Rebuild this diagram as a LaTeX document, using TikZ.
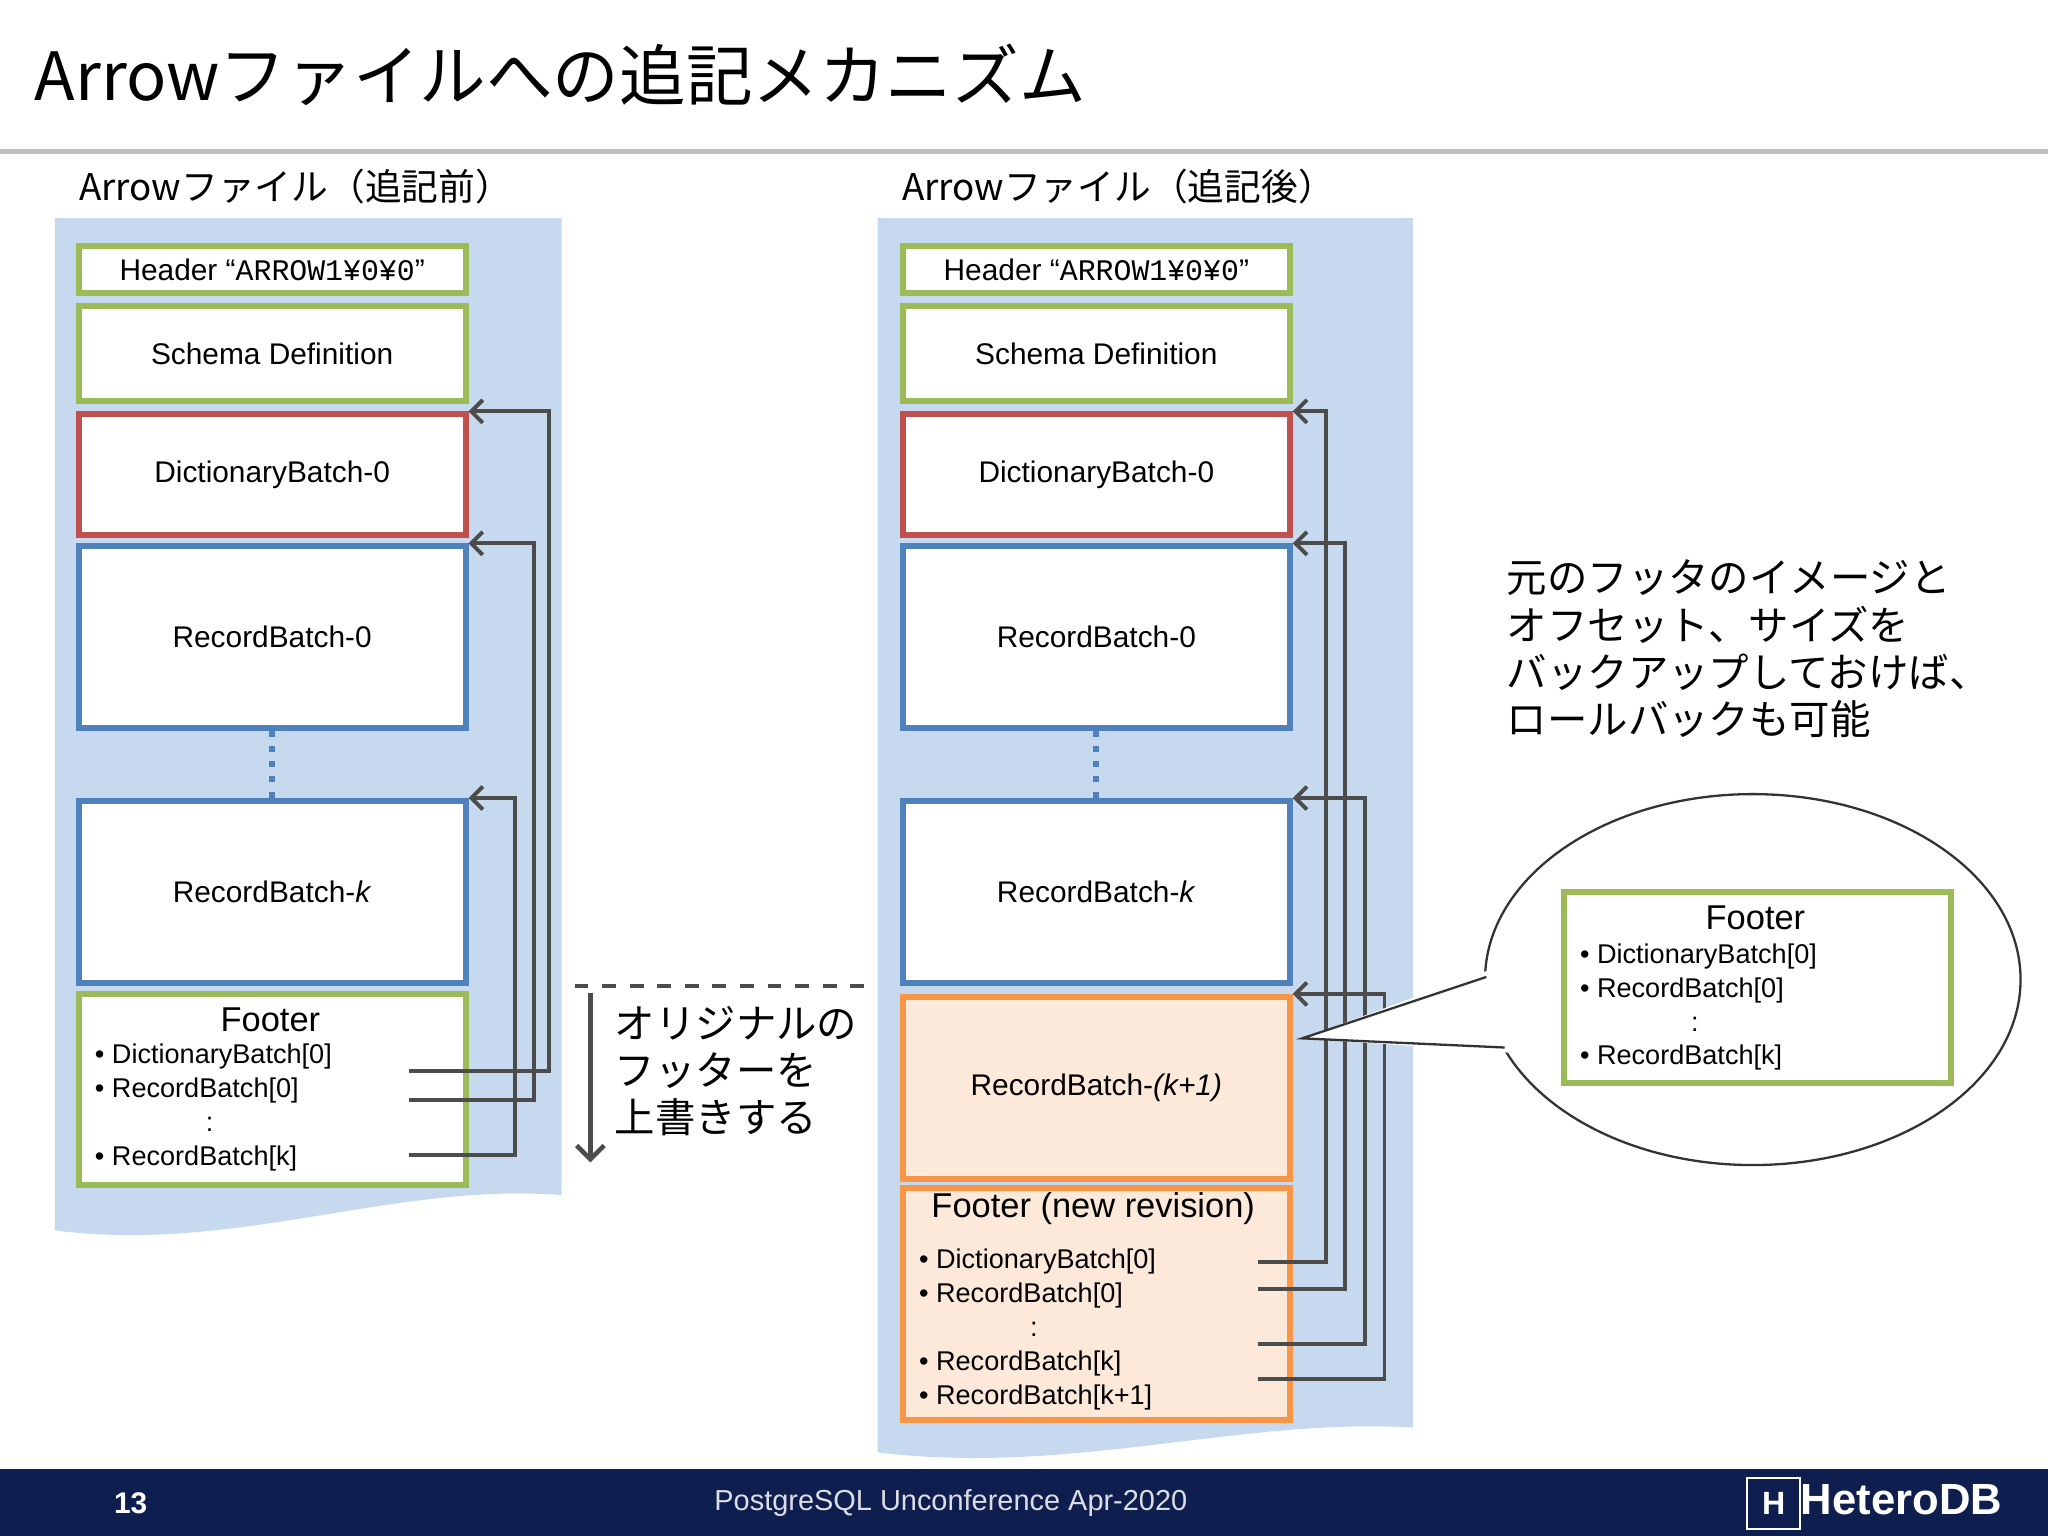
\documentclass[tikz,border=0pt]{standalone}
\usepackage{fontspec}
\setmainfont{Liberation Sans}
\newfontfamily\jp{Noto Sans CJK JP}
\newfontfamily\mono{Liberation Mono}
\usetikzlibrary{positioning,arrows.meta}
\definecolor{bgblue}{HTML}{C6D9EE}
\definecolor{gbox}{HTML}{9BBB59}
\definecolor{rbox}{HTML}{C0504D}
\definecolor{bbox}{HTML}{4F81BD}
\definecolor{obox}{HTML}{F79646}
\definecolor{ofill}{HTML}{FDE9D9}
\definecolor{navy}{HTML}{0E1E4E}
\tikzset{
  blk/.style={draw, line width=1.3pt, fill=white, inner sep=0pt, minimum width=2.96cm, anchor=north west, font=\fontsize{6.5}{7}\selectfont},
  item/.style={anchor=west, inner sep=0pt, font=\fontsize{5.9}{6}\selectfont},
  ptr/.style={draw=black!70, line width=0.85pt, -{Straight Barb[length=2.5pt,width=5pt]}},
}
\begin{document}
\begin{tikzpicture}[x=0.01cm,y=-0.01cm]
\useasboundingbox (0,0) rectangle (1568,1176);
\fill[white] (0,0) rectangle (1568,1176);
% title
\node[anchor=west, inner sep=0pt, font=\jp\fontsize{14.5}{16}\selectfont] (title) at (26,57) {Arrowファイルへの追記メカニズム};
\fill[black!25] (0,114) rectangle (1568,118);
% panels
\fill[bgblue] (42,167) -- (430,167) -- (430,915) .. controls (300,905) and (180,960) .. (42,942) -- cycle;
\fill[bgblue] (672,167) -- (1082,167) -- (1082,1093) .. controls (950,1085) and (820,1130) .. (672,1112) -- cycle;
\node[anchor=west, inner sep=0pt, font=\jp\fontsize{8}{9}\selectfont] (lt) at (60,143) {Arrowファイル（追記前）};
\node[anchor=west, inner sep=0pt, font=\jp\fontsize{8}{9}\selectfont] (rt) at (690,143) {Arrowファイル（追記後）};

% both columns
\foreach \pre/\x in {l/58, r/689}{
  \node[blk, draw=gbox, minimum height=0.36cm] (\pre h) at (\x,186) {Header “{\mono ARROW1¥0¥0}”};
  \node[blk, draw=gbox, minimum height=0.73cm] (\pre s) at (\x,232) {Schema Definition};
  \node[blk, draw=rbox, minimum height=0.92cm] (\pre d) at (\x,315) {DictionaryBatch-0};
  \node[blk, draw=bbox, minimum height=1.39cm] (\pre 0) at (\x,416) {RecordBatch-0};
  \node[blk, draw=bbox, minimum height=1.39cm] (\pre k) at (\x,611) {RecordBatch-\textit{k}};
  \draw[bbox, line width=1.3pt, dotted] (\pre 0.south) -- (\pre k.north);
}
\node[blk, draw=gbox, minimum height=1.46cm] (lf) at (58,759) {};
\node[font=\fontsize{7.5}{8}\selectfont, inner sep=0pt] at (207,781) {Footer};
\node[item] (lf1) at (72,809) {• DictionaryBatch[0]};
\node[item] (lf2) at (72,835) {• RecordBatch[0]};
\node[item] at (157,861) {:};
\node[item] (lf3) at (72,887) {• RecordBatch[k]};
\coordinate (la1) at (313,820); \coordinate (la2) at (313,842); \coordinate (la3) at (313,884);
\draw[ptr] (la1) -| (420,330) |- (ld.north east);
\draw[ptr] (la2) -| (409,430) |- (l0.north east);
\draw[ptr] (la3) -| (394,625) |- (lk.north east);

% overwrite note
\coordinate (o1) at (440,755); \coordinate (o2) at (672,755);
\draw[black!70, line width=0.9pt, dashed] (o1) -- (o2);
\draw[black!70, line width=1pt, -{Straight Barb[length=3pt,width=6pt]}] (452,760) -- (452,890);
\node[anchor=north west, align=left, inner sep=0pt, font=\jp\fontsize{8.8}{10.2}\selectfont] (ow) at (470,770) {オリジナルの\\フッターを\\上書きする};

% right column extras
\node[blk, draw=obox, fill=ofill, minimum height=1.39cm] (rn) at (689,761) {RecordBatch-\textit{(k+1)}};
\node[blk, draw=obox, fill=ofill, minimum height=1.78cm] (rf) at (689,907) {};
\node[font=\fontsize{7.5}{8}\selectfont, inner sep=0pt] at (837,925) {Footer (new revision)};
\node[item] (rf1) at (703,966) {• DictionaryBatch[0]};
\node[item] (rf2) at (703,992) {• RecordBatch[0]};
\node[item] at (788,1018) {:};
\node[item] (rf3) at (703,1044) {• RecordBatch[k]};
\node[item] (rf4) at (703,1070) {• RecordBatch[k+1]};
\coordinate (ra1) at (963,966); \coordinate (ra2) at (963,987);
\coordinate (ra3) at (963,1029); \coordinate (ra4) at (963,1056);
\draw[ptr] (ra1) -| (1015,330) |- (rd.north east);
\draw[ptr] (ra2) -| (1030,430) |- (r0.north east);
\draw[ptr] (ra3) -| (1045,625) |- (rk.north east);
\draw[ptr] (ra4) -| (1060,775) |- (rn.north east);

% note and callout
\node[anchor=north west, align=left, inner sep=0pt, font=\jp\fontsize{8.8}{10.3}\selectfont] (nt) at (1153,428) {元のフッタのイメージと\\オフセット、サイズを\\バックアップしておけば、\\ロールバックも可能};
\draw[black!80, line width=0.5pt, fill=white] (1342,750) ellipse [x radius=205, y radius=142];
\fill[white] (1142,742) -- (997,795) -- (1156,806) -- cycle;
\draw[black!80, line width=0.5pt] (1138,748) -- (997,795) -- (1152,802);
\node[blk, draw=gbox, minimum height=1.46cm] (cf) at (1195,681) {};
\node[font=\fontsize{7.5}{8}\selectfont, inner sep=0pt] at (1344,703) {Footer};
\node[item] at (1209,732) {• DictionaryBatch[0]};
\node[item] at (1209,758) {• RecordBatch[0]};
\node[item] at (1294,784) {:};
\node[item] at (1209,810) {• RecordBatch[k]};

% footer bar
\fill[navy] (0,1125) rectangle (1568,1176);
\node[white, font=\bfseries\fontsize{6.5}{7}\selectfont] (pg) at (100,1151) {13};
\node[white!85!navy, font=\fontsize{6.3}{7}\selectfont] (cf2) at (728,1151) {PostgreSQL Unconference Apr-2020};
\node[white, font=\bfseries\fontsize{9.5}{10}\selectfont] (logo) at (1435,1151) {\fbox{\scriptsize H}HeteroDB};
\end{tikzpicture}
\end{document}
